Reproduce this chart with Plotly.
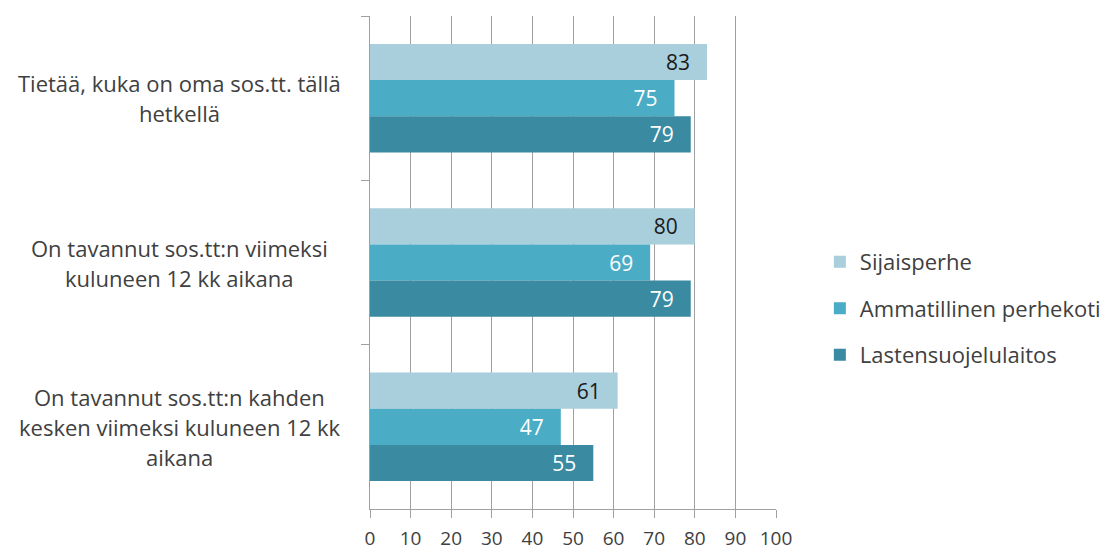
import plotly.graph_objects as go

categories = [
    "Tietää, kuka on oma sos.tt. tällä\nhetkellä",
    "On tavannut sos.tt:n viimeksi\nkuluneen 12 kk aikana",
    "On tavannut sos.tt:n kahden\nkesken viimeksi kuluneen 12 kk\naikana",
]
series_names = ["Sijaisperhe", "Ammatillinen perhekoti", "Lastensuojelulaitos"]
sijaisperhe = [83, 80, 61]
ammatillinen = [75, 69, 47]
lastensuojelulaitos = [79, 79, 55]
x_ticks = [0, 10, 20, 30, 40, 50, 60, 70, 80, 90, 100]

values = [sijaisperhe, ammatillinen, lastensuojelulaitos]
colors = ["#A9CEDC", "#4BACC6", "#3A8AA1"]
text_colors = ["#1A1A1A", "#FFFFFF", "#FFFFFF"]
FONT = "Open Sans"

fig = go.Figure()
for i, (name, vals) in enumerate(zip(series_names, values)):
    fig.add_trace(go.Bar(
        y=categories, x=vals, name=name, orientation="h",
        marker=dict(color=colors[i], line=dict(width=0)),
        texttemplate="%{x}\u2002\u2009", textposition="inside",
        insidetextanchor="end",
        textfont=dict(family=FONT, size=21, color=text_colors[i]),
        legendgroup=name, cliponaxis=False,
    ))

# centered multi-line category labels
line_h = 30
for cat in categories:
    lines = cat.split("\n")
    n = len(lines)
    for j, ln in enumerate(lines):
        fig.add_annotation(
            x=-0.469, xref="paper", y=cat, yref="y",
            text=ln, showarrow=False, xanchor="center", yanchor="middle",
            yshift=((n - 1) / 2 - j) * line_h,
            font=dict(family=FONT, size=22, color="#404040"),
        )

# page body has an 8px default margin; compensate so the plot sits as in the reference
fig.update_layout(
    width=1106, height=545,
    margin=dict(l=362, r=335, t=8, b=44),
    paper_bgcolor="white", plot_bgcolor="white",
    barmode="group", bargap=0.34, bargroupgap=0,
    showlegend=True,
    legend=dict(
        x=1.108, xanchor="left", y=0.407, yanchor="middle",
        traceorder="grouped", tracegroupgap=15,
        font=dict(family=FONT, size=22, color="#404040"),
        itemsizing="constant",
    ),
    font=dict(family=FONT, color="#404040"),
)
fig.update_xaxes(
    range=[0, 100], tickvals=x_ticks, ticktext=[str(t) for t in x_ticks],
    showgrid=True, gridcolor="#A0A0A0", gridwidth=1,
    showline=True, linecolor="#A0A0A0", linewidth=1,
    ticks="outside", ticklen=8, tickcolor="#A0A0A0",
    ticklabelstandoff=4,
    tickfont=dict(family=FONT, size=19, color="#404040"),
    zeroline=False, fixedrange=True, automargin=False,
)
fig.update_yaxes(
    autorange="reversed", showticklabels=False,
    showline=True, linecolor="#A0A0A0", linewidth=1,
    ticks="outside", ticklen=8, tickcolor="#A0A0A0", tickson="boundaries",
    showgrid=False, zeroline=False, automargin=False,
)

fig.write_html("out.html")
